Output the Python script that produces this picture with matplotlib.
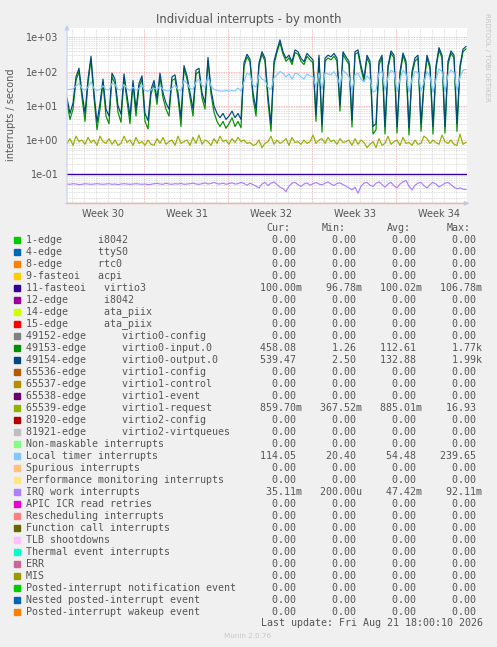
# munin "Individual interrupts - by month" remake
import numpy as np
import matplotlib
matplotlib.use("Agg")
import matplotlib.pyplot as plt
from matplotlib.patches import Rectangle

W, H = 497, 647

# ====== data ======
step_days = 0.25          # one sample every 6 h
n_samples = 134

virtio3_x = [0.0, 33.25]
virtio3 = [0.1, 0.1]

virtio0_input = [
    12, 4, 8, 55, 100, 17, 3.5, 45, 230, 17,
    2, 8, 45, 5, 3, 70, 45, 6.5, 3.3, 65,
    14, 3, 42, 5, 35, 60, 3.5, 2.1, 22, 42,
    11, 70, 17, 8, 5, 55, 62, 17, 2.5, 120,
    60, 17, 5, 85, 100, 17, 8, 210, 22, 6.5,
    3.5, 2.5, 3.5, 2.2, 3, 4.5, 2.5, 3.5, 2.3, 140,
    270, 190, 17, 5, 150, 320, 200, 13, 1.8, 160,
    360, 700, 320, 200, 250, 160, 360, 320, 200, 160,
    280, 220, 180, 3.5, 250, 1.7, 200, 250, 220, 280,
    200, 7, 320, 220, 160, 2.4, 320, 360, 120, 52,
    250, 160, 1.5, 2, 160, 250, 1.5, 120, 340, 250,
    1.6, 80, 290, 160, 1.4, 80, 200, 250, 1.8, 40,
    250, 120, 1.5, 120, 420, 250, 1.6, 160, 340, 250,
    1.8, 120, 380, 460,
]

virtio0_output = [
    17, 6, 12, 70, 125, 24, 6, 60, 280, 24,
    3.3, 12, 60, 8, 5, 90, 60, 10, 5.7, 85,
    20, 5, 55, 8, 45, 75, 6, 3.7, 30, 55,
    16, 90, 24, 12, 8, 70, 80, 24, 4.5, 150,
    75, 24, 8, 110, 125, 24, 12, 260, 30, 10,
    6, 4.5, 6, 4, 5, 7, 4.5, 6, 4, 180,
    320, 230, 24, 8, 180, 380, 245, 20, 3, 200,
    430, 840, 380, 245, 300, 195, 430, 380, 245, 195,
    340, 270, 220, 5.5, 300, 2.8, 245, 300, 270, 340,
    245, 10.7, 380, 270, 195, 3.9, 380, 430, 150, 64,
    300, 200, 2.5, 3, 200, 300, 2.5, 150, 400, 300,
    2.5, 100, 350, 200, 2.3, 100, 250, 300, 3, 50,
    300, 150, 2.5, 150, 500, 300, 2.5, 200, 400, 300,
    3, 150, 450, 540,
]

virtio1_request = [
    0.8, 1.1, 0.7, 1.3, 0.9, 1.0, 0.75, 1.2, 0.85, 1.0,
    0.7, 1.3, 0.9, 0.8, 1.1, 0.75, 1.0, 0.7, 0.8, 1.3,
    0.85, 1.0, 0.7, 1.2, 0.8, 0.9, 0.7, 1.0, 0.75, 0.7,
    1.1, 0.8, 1.2, 0.75, 0.9, 1.0, 0.7, 1.3, 0.8, 0.9,
    1.0, 0.7, 1.2, 0.8, 1.4, 0.75, 1.0, 0.9, 0.7, 1.1,
    0.8, 1.3, 0.9, 1.0, 0.75, 1.1, 0.85, 1.2, 0.9, 1.0,
    0.8, 0.85, 0.7, 0.75, 1.0, 0.6, 0.8, 0.9, 1.3, 0.75,
    1.0, 0.8, 0.9, 1.1, 0.7, 1.2, 0.85, 0.9, 0.75, 1.0,
    0.8, 0.9, 1.4, 0.8, 1.0, 1.1, 0.8, 1.2, 0.9, 1.0,
    0.75, 1.1, 0.85, 0.9, 1.0, 0.7, 1.1, 0.75, 1.0, 0.85,
    0.6, 0.75, 0.9, 0.6, 1.1, 0.7, 0.8, 1.3, 0.75, 0.9,
    1.0, 0.7, 1.2, 0.8, 0.85, 0.7, 1.0, 0.75, 0.8, 1.3,
    1.1, 0.8, 1.0, 0.85, 0.75, 1.4, 0.9, 0.8, 1.0, 0.75,
    0.7, 1.5, 0.75, 0.86,
]

local_timer = [
    30, 30, 31, 38, 45, 32, 29, 35, 50, 32,
    28, 30, 38, 30, 29, 45, 42, 30, 29, 42,
    32, 28, 35, 29, 32, 40, 28, 27, 30, 33,
    30, 38, 30, 28, 27, 33, 40, 30, 28, 55,
    45, 32, 30, 50, 60, 40, 35, 70, 38, 30,
    28, 27, 27, 28, 27, 28, 27, 33, 27, 50,
    90, 80, 40, 35, 80, 60, 55, 35, 30, 65,
    80, 100, 90, 70, 85, 60, 90, 85, 70, 60,
    85, 75, 70, 35, 90, 30, 90, 85, 80, 100,
    70, 40, 110, 90, 70, 28, 80, 90, 60, 50,
    75, 60, 25, 28, 90, 100, 28, 70, 110, 95,
    26, 60, 110, 85, 25, 60, 100, 95, 27, 50,
    100, 70, 25, 60, 120, 100, 26, 80, 110, 95,
    27, 70, 110, 115,
]

irq_work = [
    0.052, 0.051, 0.053, 0.052, 0.050, 0.051, 0.053, 0.052, 0.051, 0.052,
    0.053, 0.052, 0.051, 0.052, 0.053, 0.051, 0.052, 0.050, 0.052, 0.053,
    0.052, 0.051, 0.052, 0.053, 0.052, 0.051, 0.052, 0.050, 0.051, 0.053,
    0.054, 0.052, 0.051, 0.055, 0.052, 0.051, 0.053, 0.052, 0.054, 0.051,
    0.052, 0.053, 0.055, 0.052, 0.051, 0.053, 0.056, 0.052, 0.054, 0.058,
    0.053, 0.052, 0.055, 0.051, 0.054, 0.056, 0.052, 0.053, 0.058, 0.054,
    0.048, 0.055, 0.050, 0.045, 0.040, 0.052, 0.058, 0.047, 0.055, 0.060,
    0.050, 0.042, 0.038, 0.031, 0.045, 0.055, 0.058, 0.050, 0.044, 0.052,
    0.056, 0.048, 0.053, 0.058, 0.052, 0.049, 0.055, 0.060, 0.052, 0.047,
    0.054, 0.056, 0.050, 0.045, 0.040, 0.035, 0.042, 0.028, 0.045, 0.055,
    0.058, 0.048, 0.044, 0.055, 0.060, 0.050, 0.042, 0.052, 0.058, 0.046,
    0.040, 0.052, 0.060, 0.066, 0.045, 0.035, 0.048, 0.055, 0.058, 0.046,
    0.040, 0.050, 0.058, 0.052, 0.043, 0.048, 0.055, 0.058, 0.050, 0.042,
    0.038, 0.040, 0.037, 0.036,
]

week_labels = ["Week 30", "Week 31", "Week 32", "Week 33", "Week 34"]
week_centers = [2.97, 9.97, 16.97, 23.97, 30.97]
week_starts = [6.44, 13.44, 20.44, 27.44]

legend_labels = [
    "1-edge      i8042", "4-edge      ttyS0", "8-edge      rtc0",
    "9-fasteoi   acpi", "11-fasteoi   virtio3", "12-edge      i8042",
    "14-edge      ata_piix", "15-edge      ata_piix",
    "49152-edge      virtio0-config", "49153-edge      virtio0-input.0",
    "49154-edge      virtio0-output.0", "65536-edge      virtio1-config",
    "65537-edge      virtio1-control", "65538-edge      virtio1-event",
    "65539-edge      virtio1-request", "81920-edge      virtio2-config",
    "81921-edge      virtio2-virtqueues",
    "Non-maskable interrupts", "Local timer interrupts", "Spurious interrupts",
    "Performance monitoring interrupts", "IRQ work interrupts",
    "APIC ICR read retries", "Rescheduling interrupts",
    "Function call interrupts", "TLB shootdowns", "Thermal event interrupts",
    "ERR", "MIS", "Posted-interrupt notification event",
    "Nested posted-interrupt event", "Posted-interrupt wakeup event",
]
legend_colors = [
    "#00CC00", "#0066B3", "#FF8000", "#FFCC00", "#330099", "#990099",
    "#CCFF00", "#FF0000", "#808080", "#008F00", "#00487D", "#B35A00",
    "#B38F00", "#6B006B", "#8FB300", "#B30000", "#BEBEBE", "#80FF80",
    "#80C9FF", "#FFC080", "#FFE680", "#AA80FF", "#EE00CC", "#FF8080",
    "#666600", "#FFBFFF", "#00FFCC", "#CC6699", "#999900", "#00CC00",
    "#0066B3", "#FF8000",
]
Z = "0.00 "
cur_vals = [Z]*4 + ["100.00m"] + [Z]*4 + ["458.08 ", "539.47 "] + [Z]*3 + \
    ["859.70m"] + [Z]*3 + ["114.05 "] + [Z]*2 + ["35.11m"] + [Z]*10
min_vals = [Z]*4 + ["96.78m"] + [Z]*4 + ["1.26 ", "2.50 "] + [Z]*3 + \
    ["367.52m"] + [Z]*3 + ["20.40 "] + [Z]*2 + ["200.00u"] + [Z]*10
avg_vals = [Z]*4 + ["100.02m"] + [Z]*4 + ["112.61 ", "132.88 "] + [Z]*3 + \
    ["885.01m"] + [Z]*3 + ["54.48 "] + [Z]*2 + ["47.42m"] + [Z]*10
max_vals = [Z]*4 + ["106.78m"] + [Z]*4 + ["1.77k", "1.99k"] + [Z]*3 + \
    ["16.93 "] + [Z]*3 + ["239.65 "] + [Z]*2 + ["92.11m"] + [Z]*10

# ====== figure ======
TXT = "#555555"
fig = plt.figure(figsize=(W / 100, H / 100), dpi=100, facecolor="#F0F0F0")

def fx(px):
    return px / W

def fy(py):
    return 1 - py / H

left, right, top, bottom = 67, 467, 28.3, 203.3
ax = fig.add_axes([fx(left), fy(bottom), (right - left) / W, (bottom - top) / H])
ax.set_facecolor("white")
ax.set_yscale("log")
ax.set_xlim(0, 400 / 12)
ax.set_ylim(0.01422, 1834)
for s in ax.spines.values():
    s.set_visible(False)

# grid
gray = dict(color="#D4D4D4", lw=0.6, ls=(0, (1, 1)), zorder=0)
red = dict(color="#F0A0A0", lw=0.6, ls=(0, (1, 1)), zorder=0)
for d in np.arange(0.44, 33.4, 1.0):
    if min(abs(d - w) for w in week_starts) > 0.1:
        ax.axvline(d, **gray)
for w in week_starts:
    ax.axvline(w, **red)
for e in range(-2, 4):
    for m in range(2, 10):
        ax.axhline(m * 10.0 ** e, **gray)
for e in range(-1, 4):
    ax.axhline(10.0 ** e, **red)

t = np.arange(n_samples) * step_days
lw = 0.85
ax.plot(virtio3_x, virtio3, color="#330099", lw=1.0, zorder=3)
ax.plot(t, virtio0_input, color="#008F00", lw=lw, zorder=3)
ax.plot(t, virtio0_output, color="#00487D", lw=lw, zorder=3)
ax.plot(t, virtio1_request, color="#8FB300", lw=lw, zorder=3)
ax.plot(t, local_timer, color="#80C9FF", lw=lw, zorder=3)
ax.plot(t, irq_work, color="#AA80FF", lw=lw, zorder=3)

# axes arrows
axis_c = "#C5CDF0"
ax.annotate("", xy=(0, 1.036), xytext=(0, -0.02), xycoords="axes fraction",
            arrowprops=dict(arrowstyle="-|>", color=axis_c, lw=0.8, mutation_scale=7))
ax.annotate("", xy=(1.013, 0), xytext=(-0.01, 0), xycoords="axes fraction",
            arrowprops=dict(arrowstyle="-|>", color=axis_c, lw=0.8, mutation_scale=7))
ax.plot([0, 1], [0, 0], transform=ax.transAxes, color="#F5B58F", lw=1.0,
        clip_on=False, zorder=4)

ax.set_yticks([0.1, 1, 10, 100, 1000], ["1e-01", "1e+00", "1e+01", "1e+02", "1e+03"])
ax.set_yticks([], minor=True)
ax.set_xticks(week_centers, week_labels)
ax.tick_params(axis="both", length=0, labelsize=7, colors=TXT)
ax.tick_params(axis="y", pad=6)
ax.tick_params(axis="x", pad=4)

fig.text(fx(248.5), fy(19.3), "Individual interrupts - by month", ha="center",
         va="center", fontsize=8.4, color=TXT)
fig.text(fx(10.7), fy(115), "interrupts / second", rotation=90, ha="center",
         va="center", fontsize=7, color=TXT)
fig.text(fx(487), fy(57.5), "RRDTOOL / TOBI OETIKER", rotation=270, ha="center",
         va="center", fontsize=5, color="#C4C4C4")

# legend block
mono = dict(family="DejaVu Sans Mono", fontsize=7.2, color=TXT, va="center")
for lbl, x in zip(["Cur:", "Min:", "Avg:", "Max:"], [266.7, 322, 386.7, 446.7]):
    fig.text(fx(x), fy(228.3), lbl, ha="left", **mono)
for i, lbl in enumerate(legend_labels):
    y = 240 + 12 * i
    fig.patches.append(Rectangle((fx(14), fy(y + 3)), 6 / W, 6 / H,
                                 transform=fig.transFigure, color=legend_colors[i]))
    row = (lbl.ljust(39) + cur_vals[i].rjust(7) + "   " + min_vals[i].rjust(7)
           + "   " + avg_vals[i].rjust(7) + "   " + max_vals[i].rjust(7))
    fig.text(fx(26), fy(y), row, ha="left", **mono)

fig.text(fx(260.7), fy(623.5), "Last update: Fri Aug 21 18:00:10 2026", ha="left", **mono)
fig.text(fx(247.7), fy(636), "Munin 2.0.76", ha="center", va="center",
         fontsize=5.2, color="#C8C8C8")

fig.savefig("out.png", dpi=100, facecolor=fig.get_facecolor())
